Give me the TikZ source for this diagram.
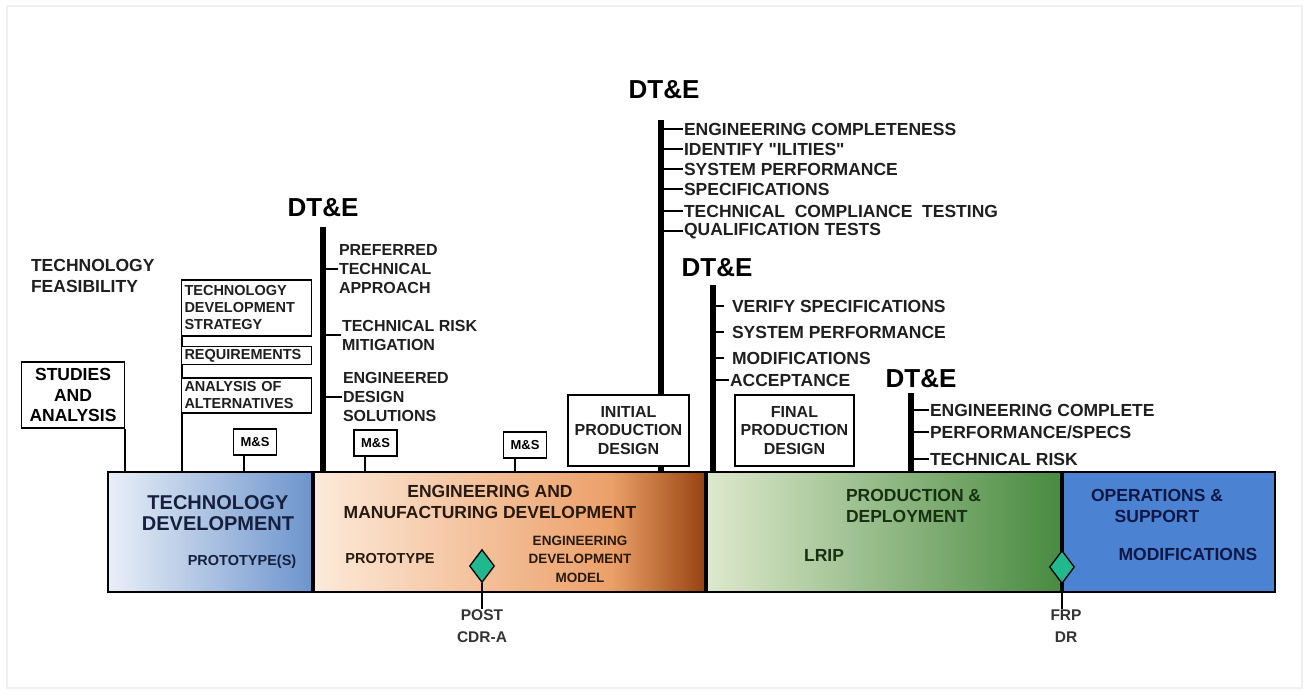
\documentclass[tikz,border=0pt]{standalone}
\usepackage{fontspec}
\setmainfont{Liberation Sans}
\usetikzlibrary{shapes.geometric}

\definecolor{tdlight}{RGB}{233,239,248}
\definecolor{tddark}{RGB}{108,148,204}
\definecolor{emdlight}{RGB}{253,234,218}
\definecolor{emdmid}{RGB}{236,160,105}
\definecolor{emddark}{RGB}{150,66,16}
\definecolor{pdlight}{RGB}{222,233,205}
\definecolor{pdmid}{RGB}{158,192,108}
\definecolor{pddark}{RGB}{72,138,64}
\definecolor{osblue}{RGB}{76,130,210}
\definecolor{msgreen}{RGB}{32,184,140}
\definecolor{tdtext}{RGB}{22,32,62}
\definecolor{emdtext}{RGB}{40,26,16}
\definecolor{pdtext}{RGB}{22,48,16}
\definecolor{ostext}{RGB}{14,24,70}

\tikzset{
  txt/.style={font=\bfseries\fontsize{17.5}{21}\selectfont, inner sep=0pt, text=black!88},
  mid/.style={font=\bfseries\fontsize{16}{19}\selectfont, inner sep=0pt, text=black!88},
  small/.style={font=\bfseries\fontsize{14.5}{17}\selectfont, inner sep=0pt, text=black!88},
  dtelbl/.style={font=\bfseries\fontsize{26}{28}\selectfont, inner sep=0pt},
  pillar/.style={line width=6pt},
  tick/.style={line width=1.6pt},
  box/.style={draw, line width=1.8pt, fill=white, inner sep=0pt},
  milestone/.style={diamond, draw, line width=1.3pt, fill=msgreen, minimum width=25pt, minimum height=33pt, inner sep=0pt},
}

\begin{document}
\begin{tikzpicture}[x=1pt,y=-1pt,line width=2pt]
\useasboundingbox (0,0) rectangle (1307,694);
\draw[black!6,line width=1.5pt] (7,6) rectangle (1302,688);

\coordinate (bartop) at (0,472);

% phase bar
\shade[left color=tdlight,right color=tddark] (108,472) rectangle (313,592);
\shade[left color=emdlight,right color=emdmid] (313,472) rectangle (612,592);
\shade[left color=emdmid,right color=emddark] (611.5,472) rectangle (706,592);
\shade[left color=pdlight,middle color=pdmid,right color=pddark] (706,472) rectangle (1062,592);
\fill[osblue] (1062,472) rectangle (1275,592);
\draw[line width=2pt] (108,472) rectangle (1275,592);
\draw[line width=4pt] (313,472) -- (313,592);
\draw[line width=4pt] (706,472) -- (706,592);
\draw[line width=4pt] (1062,472) -- (1062,592);

\node[font=\bfseries\fontsize{20}{21}\selectfont,inner sep=0pt,text=tdtext,align=center] (tdname) at (218,513) {TECHNOLOGY\\DEVELOPMENT};
\node[small,text=tdtext] (tdproto) at (242,562) {PROTOTYPE(S)};
\node[txt,text=emdtext,align=center] (emdname) at (490,502) {ENGINEERING AND\\MANUFACTURING DEVELOPMENT};
\node[small,text=emdtext] (emdproto) at (390,558) {PROTOTYPE};
\node[font=\bfseries\fontsize{13.5}{18.5}\selectfont,inner sep=0pt,text=emdtext,align=center] (edm) at (580,559) {ENGINEERING\\DEVELOPMENT\\MODEL};
\node[txt,text=pdtext,align=left,anchor=west] (pdname) at (845,506) {PRODUCTION \&\\DEPLOYMENT};
\node[txt,text=pdtext] (lrip) at (824,555) {LRIP};
\node[txt,text=ostext,align=center] (osname) at (1157,506) {OPERATIONS \&\\SUPPORT};
\node[txt,text=ostext] (osmods) at (1188,554) {MODIFICATIONS};

% milestones
\node[milestone] (cdra) at (482,566) {};
\node[font=\bfseries\fontsize{15.5}{22}\selectfont,inner sep=0pt,text=black!80,align=center] (postlbl) at (482,626) {POST\\CDR-A};
\draw[line width=2pt] (cdra.south) -- (cdra.south |- postlbl.north);
\node[milestone] (frp) at (1062,567) {};
\node[font=\bfseries\fontsize{15.5}{22}\selectfont,inner sep=0pt,text=black!80,align=center] (frplbl) at (1066,626) {FRP\\DR};
\draw[line width=2pt] (frp.south) -- (frp.south |- frplbl.north);

% technology development side
\node[txt,align=left,anchor=west] (feas) at (30,276) {TECHNOLOGY\\FEASIBILITY};
\node[box,minimum width=103pt,minimum height=66pt,font=\bfseries\fontsize{17.5}{20.5}\selectfont,align=center] (studies) at (73,395) {STUDIES\\AND\\ANALYSIS};
\draw (studies.south east) -- (studies.south east |- bartop);
\draw (182,280) coordinate (tdstack) -- (tdstack |- bartop);
\node[box,small,minimum width=130pt,minimum height=56pt,text width=124pt,align=left] (tds) at (246.5,308) {TECHNOLOGY\\DEVELOPMENT\\STRATEGY};
\node[box,small,minimum width=130pt,minimum height=18pt,text width=124pt,align=left] (req) at (246.5,355.5) {REQUIREMENTS};
\node[box,small,minimum width=130pt,minimum height=35pt,text width=124pt,align=left] (aoa) at (246.5,395.5) {ANALYSIS OF\\ALTERNATIVES};
\node[box,font=\bfseries\fontsize{13}{15}\selectfont,minimum width=43pt,minimum height=26pt] (ms1) at (255,442) {M\&S};
\draw ([xshift=-11pt]ms1.south) -- ([xshift=-11pt]ms1.south |- bartop);

% DT&E 1
\node[dtelbl] (dte1) at (323,208) {DT\&E};
\coordinate (p1) at (323,227);
\draw[pillar] (p1) -- (p1 |- bartop);
\node[mid,align=left,anchor=west] (pta) at (338,269) {PREFERRED\\TECHNICAL\\APPROACH};
\node[mid,align=left,anchor=west] (trm) at (341,335) {TECHNICAL RISK\\MITIGATION};
\node[mid,align=left,anchor=west] (eds) at (342,397) {ENGINEERED\\DESIGN\\SOLUTIONS};
\draw[tick] (p1 |- pta.west) -- (pta.west);
\draw[tick] (p1 |- trm.west) -- (trm.west);
\draw[tick] (p1 |- eds.west) -- (eds.west);
\node[box,font=\bfseries\fontsize{13}{15}\selectfont,minimum width=43pt,minimum height=26pt] (ms2) at (375.5,443) {M\&S};
\draw ([xshift=-11pt]ms2.south) -- ([xshift=-11pt]ms2.south |- bartop);
\node[box,font=\bfseries\fontsize{13}{15}\selectfont,minimum width=43pt,minimum height=26pt] (ms3) at (525,445) {M\&S};
\draw ([xshift=-10pt]ms3.south) -- ([xshift=-10pt]ms3.south |- bartop);

% DT&E 2
\node[dtelbl] (dte2) at (664,90) {DT\&E};
\coordinate (p2) at (661,120);
\draw[pillar] (p2) -- (p2 |- bartop);
\node[txt,anchor=west] (ec) at (683,129) {ENGINEERING COMPLETENESS};
\node[txt,anchor=west] (il) at (683,149) {IDENTIFY \textquotedbl ILITIES\textquotedbl};
\node[txt,anchor=west] (sp) at (683,169) {SYSTEM PERFORMANCE};
\node[txt,anchor=west] (spec) at (683,189) {SPECIFICATIONS};
\node[txt,anchor=west] (tct) at (683,211) {TECHNICAL~ COMPLIANCE~ TESTING};
\node[txt,anchor=west] (qt) at (683,231) {QUALIFICATION TESTS};
\draw[tick] (p2 |- ec.west) -- (ec.west);
\draw[tick] (p2 |- il.west) -- (il.west);
\draw[tick] (p2 |- sp.west) -- (sp.west);
\draw[tick] (p2 |- spec.west) -- (spec.west);
\draw[tick] (p2 |- tct.west) -- (tct.west);
\draw[tick] (p2 |- qt.west) -- (qt.west);
\node[box,mid,minimum width=121pt,minimum height=71pt,align=center,font=\bfseries\fontsize{16}{18.5}\selectfont] (ipd) at (628.5,430.5) {INITIAL\\PRODUCTION\\DESIGN};

% DT&E 3
\node[dtelbl] (dte3) at (717,268) {DT\&E};
\coordinate (p3) at (713,285);
\draw[pillar] (p3) -- (p3 |- bartop);
\node[txt,anchor=west] (vs) at (731,306) {VERIFY SPECIFICATIONS};
\node[txt,anchor=west] (sp3) at (731,332) {SYSTEM PERFORMANCE};
\node[txt,anchor=west] (mod) at (731,358) {MODIFICATIONS};
\node[txt,anchor=west] (acc) at (729,380) {ACCEPTANCE};
\draw[tick] (p3 |- vs.west) -- ++(11,0);
\draw[tick] (p3 |- sp3.west) -- ++(11,0);
\draw[tick] (p3 |- mod.west) -- ++(11,0);
\draw[tick] (p3 |- acc.west) -- (acc.west);
\node[box,minimum width=119pt,minimum height=71pt,align=center,font=\bfseries\fontsize{16}{18.5}\selectfont,text=black!88] (fpd) at (794.5,430.5) {FINAL\\PRODUCTION\\DESIGN};

% DT&E 4
\node[dtelbl] (dte4) at (921,379) {DT\&E};
\coordinate (p4) at (911,393);
\draw[pillar] (p4) -- (p4 |- bartop);
\node[txt,anchor=west] (ecp) at (929,410) {ENGINEERING COMPLETE};
\node[txt,anchor=west] (pfs) at (929,432) {PERFORMANCE/SPECS};
\node[txt,anchor=west] (tr) at (929,459) {TECHNICAL RISK};
\draw[tick] (p4 |- ecp.west) -- (ecp.west);
\draw[tick] (p4 |- pfs.west) -- (pfs.west);
\draw[tick] (p4 |- tr.west) -- (tr.west);
\end{tikzpicture}
\end{document}
